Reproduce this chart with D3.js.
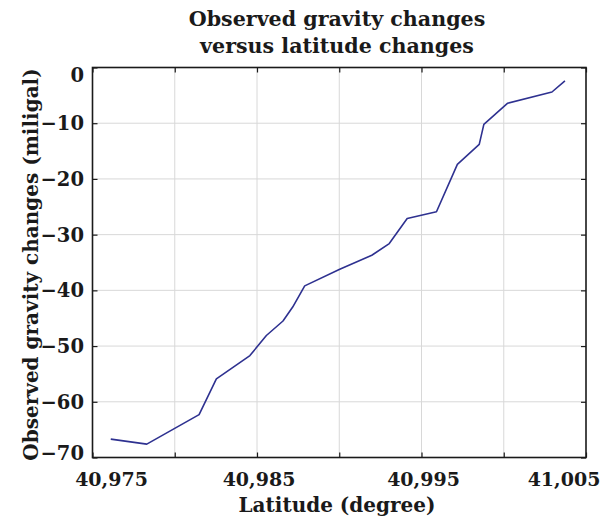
<!DOCTYPE html>
<html>
<head>
<meta charset="utf-8">
<script src="https://cdn.jsdelivr.net/npm/d3@7"></script>
<style>
  html, body { margin: 0; padding: 0; background: #fff; }
  svg text { font-family: "DejaVu Serif", serif; font-weight: bold; fill: #1a1a1a; }
</style>
</head>
<body>
<svg id="chart" width="612" height="520"></svg>
<script>
// Survey profile: latitude (degrees) against observed gravity change (mGal)
const latitude = [
  40.97611, 40.97830, 40.98148, 40.98253, 40.98457, 40.98557, 40.98658,
  40.98717, 40.98790, 40.99003, 40.99198, 40.99304, 40.99413, 40.99591,
  40.99718, 40.99851, 40.99879, 41.00024, 41.00293, 41.00372
];
const gravityChange = [
  -66.7, -67.6, -62.3, -55.9, -51.7, -48.1, -45.5,
  -43.0, -39.2, -36.2, -33.7, -31.6, -27.1, -25.9,
  -17.4, -13.8, -10.2, -6.4, -4.4, -2.4
];
const xTicks = [40.975, 40.980, 40.985, 40.990, 40.995, 41.000, 41.005];
const xLabelTicks = [40.975, 40.985, 40.995, 41.005];
const yTicks = [0, -10, -20, -30, -40, -50, -60, -70];

const titleLines = ["Observed gravity changes", "versus latitude changes"];
const xTitle = "Latitude (degree)";
const yTitle = "Observed gravity changes (miligal)";

const svg = d3.select("#chart");
const plot = { left: 92.5, right: 586, top: 67.5, bottom: 457.5 };

const x = d3.scaleLinear().domain([40.975, 41.005]).range([plot.left, plot.right]);
const y = d3.scaleLinear().domain([-70, 0]).range([plot.bottom, plot.top]);

// decimal comma formatting
const locale = d3.formatLocale({ decimal: ",", thousands: " ", grouping: [3], currency: ["", ""], minus: "\u2212" });
const fmtX = locale.format(".3f");
const fmtY = locale.format("d");

// grid
const grid = svg.append("g").attr("stroke", "#d8d8d8").attr("stroke-width", 1);
grid.selectAll("line.v").data(xTicks.slice(1, -1)).join("line")
  .attr("x1", d => x(d)).attr("x2", d => x(d))
  .attr("y1", plot.top).attr("y2", plot.bottom);
grid.selectAll("line.h").data(yTicks.slice(1, -1)).join("line")
  .attr("x1", plot.left).attr("x2", plot.right)
  .attr("y1", d => y(d)).attr("y2", d => y(d));

// inward tick marks on all four sides
const tickLen = 5;
const axisColor = "#1a1a1a";
svg.append("g").attr("transform", `translate(0,${plot.bottom})`)
  .call(d3.axisBottom(x).tickValues(xTicks).tickSize(-tickLen).tickFormat(""))
  .call(g => g.select(".domain").remove());
svg.append("g").attr("transform", `translate(0,${plot.top})`)
  .call(d3.axisTop(x).tickValues(xTicks).tickSize(-tickLen).tickFormat(""))
  .call(g => g.select(".domain").remove());
svg.append("g").attr("transform", `translate(${plot.left},0)`)
  .call(d3.axisLeft(y).tickValues(yTicks).tickSize(-tickLen).tickFormat(""))
  .call(g => g.select(".domain").remove());
svg.append("g").attr("transform", `translate(${plot.right},0)`)
  .call(d3.axisRight(y).tickValues(yTicks).tickSize(-tickLen).tickFormat(""))
  .call(g => g.select(".domain").remove());
svg.selectAll(".tick line").attr("stroke", axisColor).attr("stroke-width", 1.2);

// frame
svg.append("rect")
  .attr("x", plot.left).attr("y", plot.top)
  .attr("width", plot.right - plot.left).attr("height", plot.bottom - plot.top)
  .attr("fill", "none").attr("stroke", axisColor).attr("stroke-width", 1.6);

// data line
const line = d3.line().x(d => x(d[0])).y(d => y(d[1]));
svg.append("path")
  .datum(latitude.map((v, i) => [v, gravityChange[i]]))
  .attr("d", line)
  .attr("fill", "none")
  .attr("stroke", "#2e3190")
  .attr("stroke-width", 1.6)
  .attr("stroke-linejoin", "round");

// x tick labels (end labels pulled inside the frame edges)
const xLabelShift = v => v === xLabelTicks[0] ? 19 : (v === xLabelTicks[xLabelTicks.length - 1] ? -22 : 2);
svg.append("g").selectAll("text").data(xLabelTicks).join("text")
  .attr("x", d => x(d) + xLabelShift(d))
  .attr("y", 486)
  .attr("text-anchor", "middle")
  .attr("font-size", 19)
  .text(d => fmtX(d));

// y tick labels (end labels pulled inside the frame edges)
const yLabelShift = v => v === 0 ? 7.5 : (v === -70 ? -4.5 : 0);
svg.append("g").selectAll("text").data(yTicks).join("text")
  .attr("x", 84)
  .attr("y", d => y(d) + yLabelShift(d))
  .attr("dy", "0.36em")
  .attr("text-anchor", "end")
  .attr("font-size", 19.5)
  .text(d => fmtY(d));

// titles
svg.append("g").selectAll("text").data(titleLines).join("text")
  .attr("x", 337)
  .attr("y", (d, i) => 26 + i * 27)
  .attr("text-anchor", "middle")
  .attr("font-size", 20.6)
  .text(d => d);

svg.append("text")
  .attr("x", 337).attr("y", 512)
  .attr("text-anchor", "middle")
  .attr("font-size", 20)
  .text(xTitle);

svg.append("text")
  .attr("transform", `translate(38,${(plot.top + plot.bottom) / 2 + 2}) rotate(-90)`)
  .attr("text-anchor", "middle")
  .attr("font-size", 20)
  .text(yTitle);
</script>
</body>
</html>
